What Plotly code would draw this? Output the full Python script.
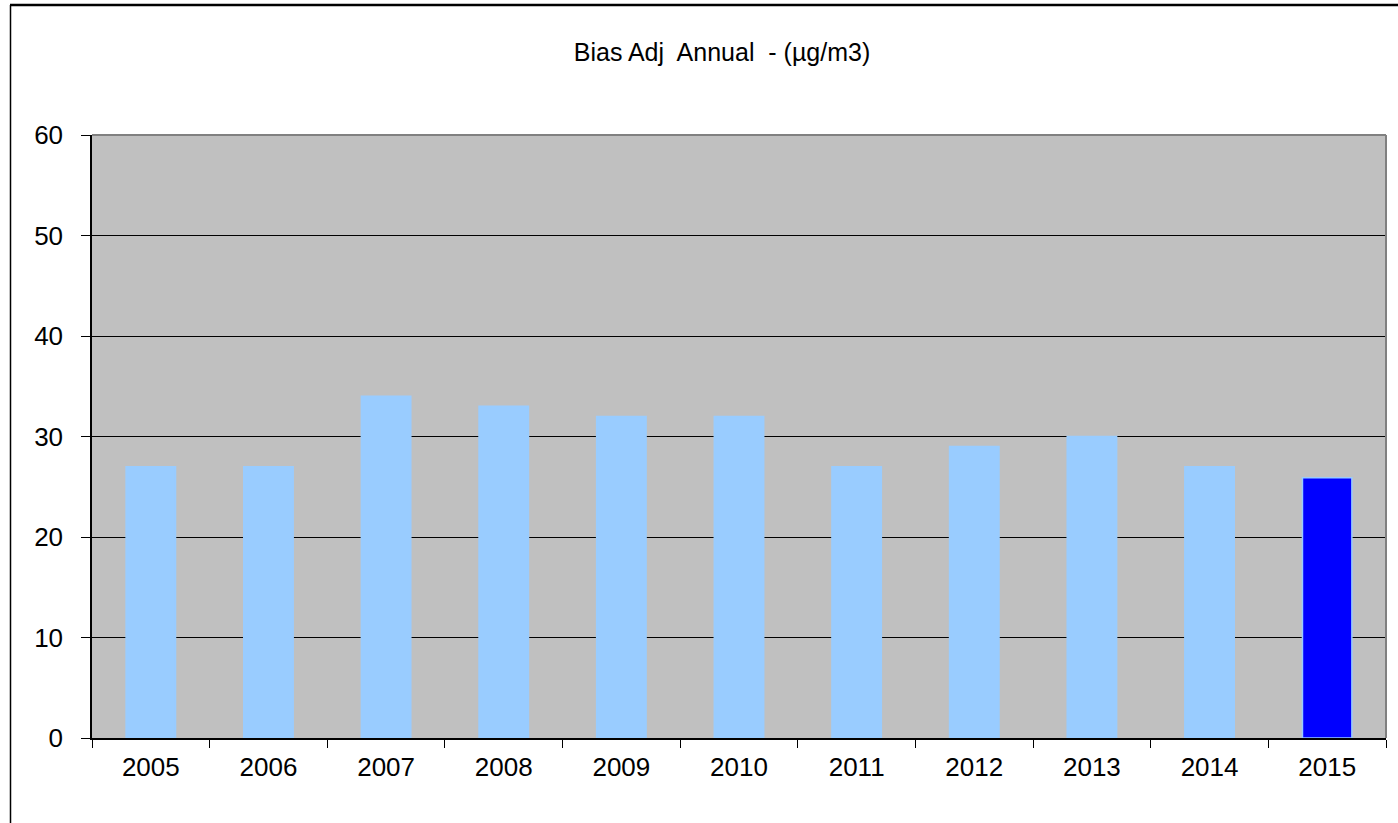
import plotly.graph_objects as go

years = ["2005", "2006", "2007", "2008", "2009", "2010", "2011", "2012", "2013", "2014", "2015"]
values = [27, 27, 34, 33, 32, 32, 27, 29, 30, 27, 25.9]
bar_colors = ["#99CCFF"] * 10 + ["#0000FF"]
y_ticks = [0, 10, 20, 30, 40, 50, 60]

W, H = 1398, 823
L, R, T, B = 92, 12, 135, 85
pw, ph = W - L - R, H - T - B

fig = go.Figure(go.Bar(
    x=years, y=values,
    marker=dict(color=bar_colors, line=dict(color="#99CCFF", width=1.5)),
    width=0.42,
))

def px_x(px):
    return (px - L) / pw

def px_y(py):
    return (H - B - py) / ph

fig.update_layout(
    width=W, height=H,
    margin=dict(l=L, r=R, t=T, b=B),
    paper_bgcolor="white",
    plot_bgcolor="#C0C0C0",
    font=dict(family="Liberation Sans, Arial, sans-serif", color="black", size=24),
    title=dict(text="Bias Adj  Annual  - (µg/m3)", x=px_x(722), xref="paper", xanchor="center",
               y=1 - 52 / H, yanchor="middle", font=dict(size=25)),
    showlegend=False,
    xaxis=dict(type="category", tickson="boundaries", ticks="outside", ticklen=8,
               tickcolor="black", showline=True, linecolor="black", linewidth=2,
               showgrid=False, tickfont=dict(size=26), ticklabelstandoff=5),
    yaxis=dict(range=[0, 60], tickvals=y_ticks, ticks="outside", ticklen=9,
               tickcolor="black", showline=True, linecolor="black", linewidth=1.5,
               showgrid=True, gridcolor="black", gridwidth=1, zeroline=False,
               tickfont=dict(size=26), ticklabelstandoff=13),
    shapes=[
        dict(type="line", xref="paper", yref="paper", x0=0, x1=1, y0=1, y1=1,
             line=dict(color="#808080", width=2), layer="above"),
        dict(type="line", xref="paper", yref="paper", x0=1, x1=1, y0=0, y1=1,
             line=dict(color="#808080", width=2), layer="above"),
        dict(type="line", xref="paper", yref="paper", x0=px_x(10), x1=px_x(W + 5),
             y0=px_y(5), y1=px_y(5), line=dict(color="black", width=2.5)),
        dict(type="line", xref="paper", yref="paper", x0=px_x(10.5), x1=px_x(10.5),
             y0=px_y(5), y1=px_y(H + 5), line=dict(color="black", width=1.5)),
    ],
)

fig.write_html("out.html")
